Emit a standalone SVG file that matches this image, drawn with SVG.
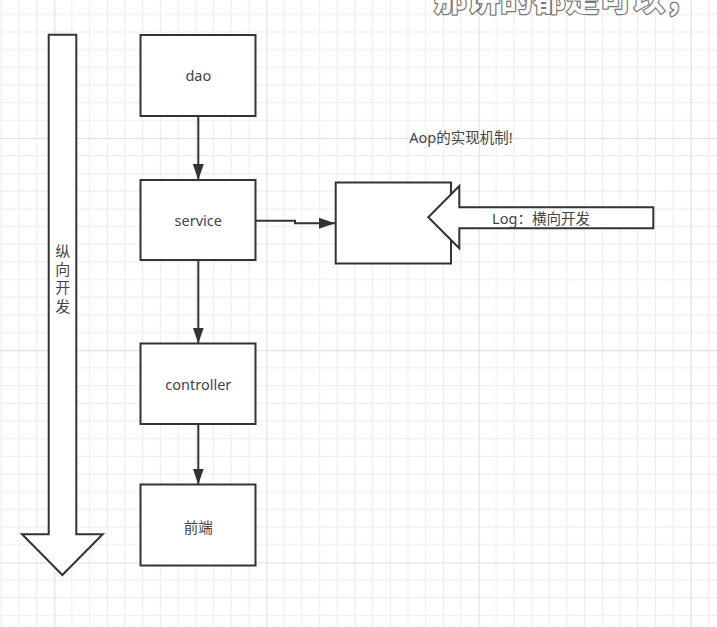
<svg xmlns="http://www.w3.org/2000/svg" width="717" height="627" viewBox="0 0 717 627">
<defs>
<pattern id="grid" patternUnits="userSpaceOnUse" x="54.3" y="138.1" width="212.16" height="212.16">
<path d="M17.68,0V212.16M35.36,0V212.16M53.04,0V212.16M70.72,0V212.16M88.4,0V212.16M106.08,0V212.16M123.76,0V212.16M141.44,0V212.16M159.12,0V212.16M176.8,0V212.16M194.48,0V212.16M0,17.68H212.16M0,35.36H212.16M0,53.04H212.16M0,70.72H212.16M0,88.4H212.16M0,106.08H212.16M0,123.76H212.16M0,141.44H212.16M0,159.12H212.16M0,176.8H212.16M0,194.48H212.16" stroke="#ececec" stroke-width="1" fill="none"/>
<path d="M0.5,0V212.16M0,0.5H212.16" stroke="#dedede" stroke-width="1" fill="none"/>
</pattern>
<marker id="ah" markerUnits="userSpaceOnUse" markerWidth="18" markerHeight="14" refX="16" refY="6" orient="auto">
<path d="M0,0.5 L16,6 L0,11.5 Z" fill="#333"/>
</marker>
</defs>
<style>
.box{fill:#fff;stroke:#333;stroke-width:2}
.blk{fill:#fff;stroke:#333;stroke-width:2;stroke-linejoin:miter}
.lbl{font-family:"Noto Sans","Noto Sans CJK SC",sans-serif;font-size:14.5px;fill:#444;text-anchor:middle}
.con{fill:none;stroke:#333;stroke-width:2}
.sub{font-family:"Noto Sans CJK SC",sans-serif;font-weight:bold;font-size:33px;fill:#fff;stroke:#777;stroke-width:2.5;paint-order:stroke;stroke-linejoin:round}
</style>
<rect width="717" height="627" fill="#fff"/>
<rect width="717" height="627" fill="url(#grid)"/>

<g id="vertical-arrow">
<polygon class="blk" points="48.7,34.7 76.3,34.7 76.3,534.3 102.7,534.3 62.4,575 22,534.3 48.7,534.3"/>
<text class="lbl" style="font-size:15px" x="62.8"><tspan x="62.8" y="257">纵</tspan><tspan x="62.8" y="275.2">向</tspan><tspan x="62.8" y="293.4">开</tspan><tspan x="62.8" y="311.6">发</tspan></text>
</g>

<g id="connectors">
<path class="con" d="M198.3,116 V180" marker-end="url(#ah)"/>
<path class="con" d="M198.3,260 V343.5" marker-end="url(#ah)"/>
<path class="con" d="M198.3,424 V484.5" marker-end="url(#ah)"/>
<path class="con" d="M255.5,220.7 H295 V223.3 H335" marker-end="url(#ah)"/>
</g>

<g id="dao">
<rect class="box" x="140.5" y="35" width="115" height="81"/>
<text class="lbl" x="198.3" y="81">dao</text>
</g>
<g id="service">
<rect class="box" x="140.5" y="180" width="115" height="80"/>
<text class="lbl" x="198.3" y="226">service</text>
</g>
<g id="controller">
<rect class="box" x="140.5" y="343.5" width="115" height="80.5"/>
<text class="lbl" x="198.3" y="389.5">controller</text>
</g>
<g id="frontend">
<rect class="box" x="140.5" y="484.5" width="115" height="81"/>
<text class="lbl" x="198.3" y="532.5">前端</text>
</g>

<g id="aop-label">
<text class="lbl" style="font-size:14.5px" x="461" y="142.5">Aop的实现机制!</text>
</g>

<g id="aop-box">
<rect class="box" x="335.7" y="182.5" width="115.3" height="81"/>
</g>

<g id="log-arrow">
<polygon class="blk" points="653.3,207.3 459.3,207.3 459.3,186 428.3,217.3 459.3,248.3 459.3,228.3 653.3,228.3"/>
<text class="lbl" x="541" y="223.5">Log：横向开发</text>
</g>

<g id="subtitle">
<text class="sub" x="566" y="11" text-anchor="middle">那讲的都是可以，</text>
</g>
</svg>
